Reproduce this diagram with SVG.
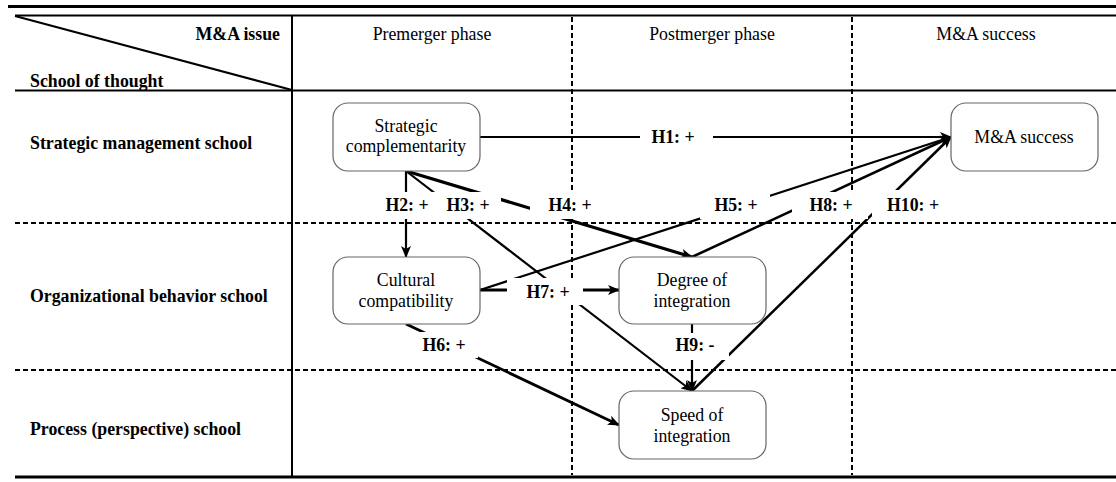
<svg xmlns="http://www.w3.org/2000/svg" width="1116" height="482" viewBox="0 0 1116 482">
<style>
text{font-family:'Liberation Serif','Times New Roman',Tinos,'DejaVu Serif',serif;font-size:17.8px;fill:#000}
.b{font-weight:bold}
.m{text-anchor:middle}
.grid{stroke:#000;fill:none}
.dash{stroke:#000;stroke-width:2;stroke-dasharray:5 3;fill:none}
.node rect{fill:#fff;stroke:#666;stroke-width:1.2}
.node text{text-anchor:middle}
.conn line{stroke:#000;stroke-width:2.2;marker-end:url(#arr)}
.lbl rect{fill:#fff}
.lbl text{font-weight:bold;text-anchor:middle}
</style>
<defs>
<marker id="arr" viewBox="0 0 12 10" refX="11" refY="5" markerWidth="12" markerHeight="10" markerUnits="userSpaceOnUse" orient="auto">
<path d="M0,0 L12,5 L0,10 L3,5 Z" fill="#000"/>
</marker>
</defs>
<rect width="1116" height="482" fill="#fff"/>
<g id="grid">
<line class="grid" x1="8" y1="6.5" x2="1116" y2="6.5" stroke-width="3"/>
<line class="grid" x1="15" y1="15.5" x2="1116" y2="15.5" stroke-width="2"/>
<line class="grid" x1="15" y1="16" x2="292" y2="90" stroke-width="2"/>
<line class="grid" x1="15" y1="90.5" x2="1116" y2="90.5" stroke-width="2"/>
<line class="grid" x1="292" y1="16" x2="292" y2="477" stroke-width="2"/>
<line class="grid" x1="15" y1="477" x2="1116" y2="477" stroke-width="3"/>
<line class="dash" x1="572" y1="17" x2="572" y2="475"/>
<line class="dash" x1="852" y1="17" x2="852" y2="475"/>
<line class="dash" x1="15" y1="223" x2="1116" y2="223"/>
<line class="dash" x1="15" y1="370" x2="1116" y2="370"/>
</g>
<g id="headers">
<text class="b" x="280" y="40" text-anchor="end">M&amp;A issue</text>
<text class="b" x="30" y="87">School of thought</text>
<text class="m" x="432" y="40">Premerger phase</text>
<text class="m" x="712" y="40">Postmerger phase</text>
<text class="m" x="986" y="40">M&amp;A success</text>
<text class="b" x="30" y="149">Strategic management school</text>
<text class="b" x="30" y="302">Organizational behavior school</text>
<text class="b" x="30" y="435">Process (perspective) school</text>
</g>
<g id="connectors" class="conn">
<line id="H1" x1="480" y1="137" x2="951" y2="137"/>
<line id="H2" x1="406" y1="171" x2="406" y2="257"/>
<line id="H3" x1="406" y1="171" x2="692" y2="391"/>
<line id="H4" x1="406" y1="171" x2="692" y2="257" style="stroke-width:3.2"/>
<line id="H5" x1="480" y1="290" x2="951" y2="137"/>
<line id="H6" x1="406" y1="324" x2="619" y2="425" style="stroke-width:2.8"/>
<line id="H7" x1="480" y1="290" x2="619" y2="290" style="stroke-width:2.8"/>
<line id="H8" x1="692" y1="257" x2="951" y2="137" style="stroke-width:2.5"/>
<line id="H9" x1="692" y1="324" x2="692" y2="391"/>
<line id="H10" x1="692" y1="391" x2="951" y2="137" style="stroke-width:2.5"/>
</g>
<g id="labels" class="lbl">
<rect x="640" y="124" width="73" height="26"/><text x="673" y="143">H1: +</text>
<rect x="380" y="192" width="53" height="27"/><text x="407" y="211">H2: +</text>
<rect x="433" y="192" width="68" height="27"/><text x="468" y="211">H3: +</text>
<rect x="530" y="192" width="80" height="27"/><text x="570" y="211">H4: +</text>
<rect x="700" y="192" width="70" height="27"/><text x="736" y="211">H5: +</text>
<rect x="792" y="192" width="76" height="27"/><text x="831" y="211">H8: +</text>
<rect x="872" y="190" width="76" height="29"/><text x="913" y="211">H10: +</text>
<rect x="507" y="278" width="76" height="27"/><text x="548" y="298">H7: +</text>
<rect x="418" y="332" width="60" height="26"/><text x="444" y="351">H6: +</text>
<rect x="670" y="333" width="59" height="27"/><text x="695" y="351">H9: -</text>
</g>
<g id="n-strategic" class="node">
<rect x="333" y="103" width="147" height="68" rx="15"/>
<text x="406" y="132">Strategic</text>
<text x="406" y="152">complementarity</text>
</g>
<g id="n-success" class="node">
<rect x="951" y="103" width="147" height="68" rx="15"/>
<text x="1024" y="143">M&amp;A success</text>
</g>
<g id="n-cultural" class="node">
<rect x="333" y="257" width="147" height="67" rx="15"/>
<text x="406" y="286">Cultural</text>
<text x="406" y="307">compatibility</text>
</g>
<g id="n-degree" class="node">
<rect x="619" y="257" width="147" height="67" rx="15"/>
<text x="692" y="286">Degree of</text>
<text x="692" y="307">integration</text>
</g>
<g id="n-speed" class="node">
<rect x="619" y="391" width="147" height="68" rx="15"/>
<text x="692" y="421">Speed of</text>
<text x="692" y="442">integration</text>
</g>
</svg>
